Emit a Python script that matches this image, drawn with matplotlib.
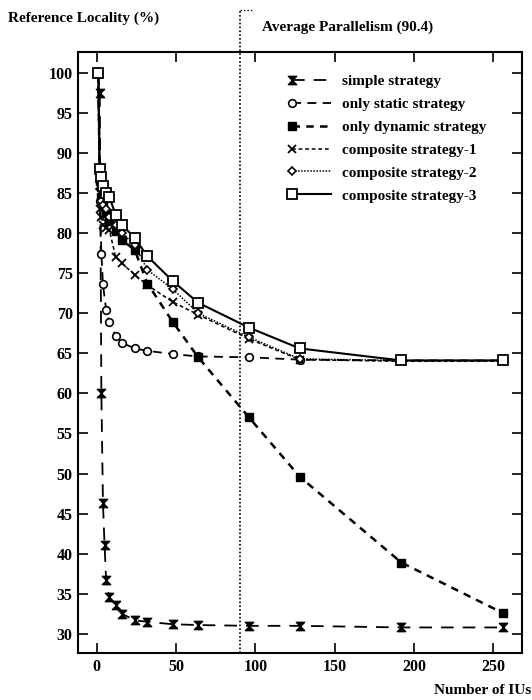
import matplotlib
matplotlib.use("Agg")
import matplotlib.pyplot as plt
from matplotlib.path import Path
from matplotlib.legend_handler import HandlerLine2DCompound
import numpy as np

plt.rcParams['font.family'] = ['Liberation Serif', 'DejaVu Serif']
plt.rcParams['font.weight'] = 'bold'

# number of IUs
x_simple = [1, 2, 3, 4, 5, 6, 8, 12, 16, 24, 32, 48, 64, 96, 128, 192, 256]
x_iu = [1, 2, 3, 4, 6, 8, 12, 16, 24, 32, 48, 64, 96, 128, 192, 256]

simple = [100, 97.5, 60, 46.3, 41.1, 36.7, 34.6, 33.6, 32.5, 31.7, 31.5, 31.2, 31.1, 31.0, 31.0, 30.8, 30.8]
static = [100, 84.0, 77.4, 73.6, 70.4, 68.9, 67.2, 66.3, 65.6, 65.3, 64.9, 64.6, 64.5, 64.2, 64.1, 64.1]
dynamic = [100, 86.5, 84.5, 83.5, 82.5, 81.5, 80.3, 79.1, 77.9, 73.7, 68.9, 64.5, 57.0, 49.6, 38.9, 32.6]
comp1 = [100, 83.0, 82.0, 81.0, 80.6, 80.4, 77.0, 76.2, 74.8, 73.5, 71.4, 69.8, 66.8, 64.2, 64.0, 64.0]
comp2 = [100, 85.5, 84.0, 83.5, 83.0, 82.0, 81.0, 80.0, 78.5, 75.4, 73.0, 70.0, 67.0, 64.3, 64.1, 64.1]
comp3 = [100, 88.0, 87.0, 85.8, 85.0, 84.5, 82.3, 81.0, 79.4, 77.1, 74.0, 71.3, 68.2, 65.6, 64.1, 64.1]

avg_par = 90.4

hourglass = Path([(-1, 1), (1, 1), (-1, -1), (1, -1), (-1, 1)],
                 [Path.MOVETO, Path.LINETO, Path.LINETO, Path.LINETO, Path.CLOSEPOLY])


class LeftMarker(HandlerLine2DCompound):
    # marker at the left end of the legend line, like the original
    def get_xdata(self, legend, xdescent, ydescent, width, height, fontsize):
        xdata = np.array([-xdescent, -xdescent + width])
        return xdata, np.array([-xdescent])


fig = plt.figure(figsize=(5.32, 7.0), dpi=100)
ax = fig.add_axes([0.147, 0.067, 0.834, 0.859])

ax.plot(x_simple, simple, color='black', lw=1.3, ls=(0, (7, 5)),
        marker=hourglass, ms=6, mfc='black', label='simple strategy')
ax.plot(x_iu, static, color='black', lw=1.3, ls=(0, (5, 3.5)),
        marker='o', ms=5.5, mfc='white', mew=1.2, label='only static strategy')
ax.plot(x_iu, dynamic, color='black', lw=1.8, ls=(0, (3, 2.5)),
        marker='s', ms=6, mfc='black', label='only dynamic strategy')
ax.plot(x_iu, comp1, color='black', lw=1.1, ls=(0, (2.5, 1.8)),
        marker='x', ms=6, mew=1.3, label='composite strategy-1')
ax.plot(x_iu, comp2, color='black', lw=1.1, ls=(0, (1, 1)),
        marker='D', ms=4.5, mfc='white', mew=1.2, label='composite strategy-2')
ax.plot(x_iu, comp3, color='black', lw=1.5, ls='-',
        marker='s', ms=7, mfc='white', mew=1.3, label='composite strategy-3')

ax.set_xlim(-11.6, 268)
ax.set_ylim(27.6, 102.6)

# average parallelism marker, reaching above the frame
ax.plot([avg_par, avg_par], [27.6, 107.8], color='black', lw=1.2, ls=(0, (1, 1.3)), clip_on=False)
ax.plot([avg_par, avg_par + 8], [107.8, 107.8], color='black', lw=1.0, ls=(0, (1, 1.5)), clip_on=False)
ax.text(104.5, 105.6, 'Average Parallelism (90.4)', fontsize=11, va='center', ha='left')

ax.set_xticks([0, 50, 100, 150, 200, 250])
ax.set_yticks(np.arange(30, 101, 5))
ax.tick_params(direction='in', length=7.5, width=1.2, top=True, right=True,
               labelsize=11.5, pad=4)
for s in ax.spines.values():
    s.set_linewidth(1.5)

fig.text(0.015, 1 - 18 / 700, 'Reference Locality (%)', fontsize=11, va='center', ha='left')
fig.text(0.998, 1 - 690 / 700, 'Number of IUs', fontsize=11, va='center', ha='right')

leg = ax.legend(loc='upper left', bbox_to_anchor=(0.45, 0.985), frameon=False,
                fontsize=11, handlelength=2.6, handletextpad=0.7, labelspacing=0.6,
                numpoints=1, handler_map={plt.Line2D: LeftMarker()})

fig.savefig('out.png', dpi=100)
